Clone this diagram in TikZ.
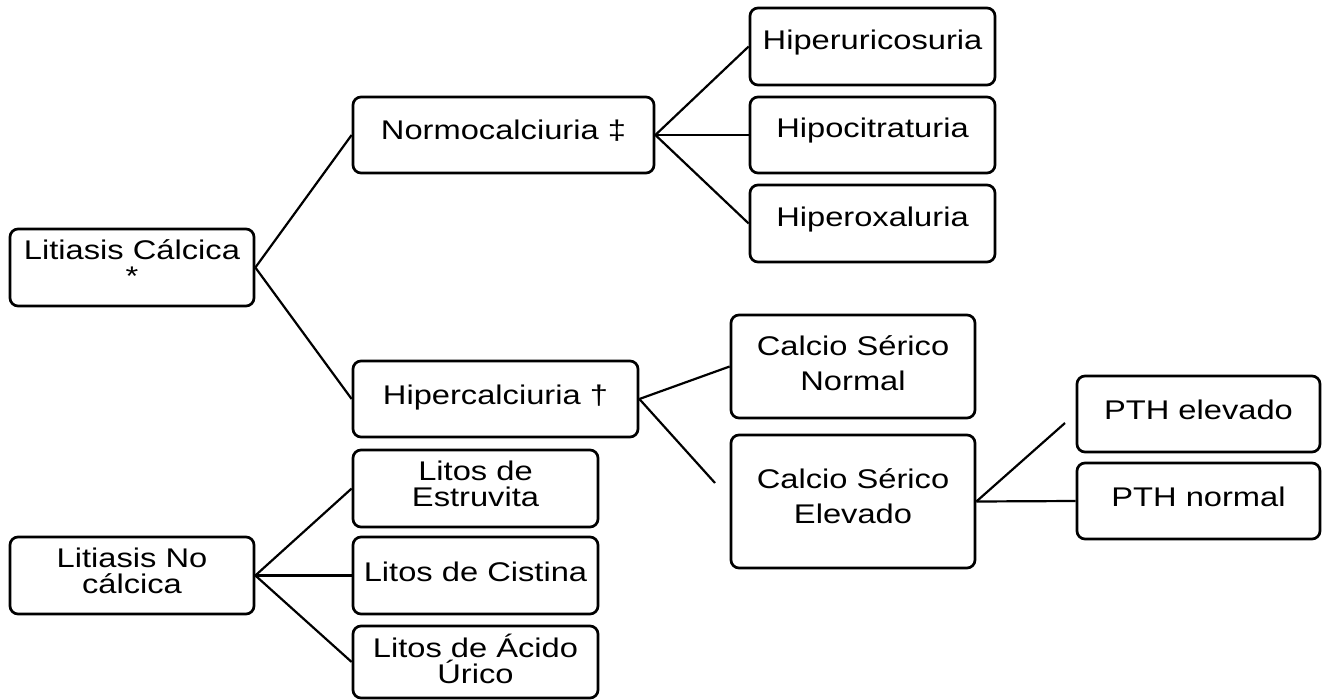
\documentclass[tikz,border=0pt]{standalone}
\usepackage{fontspec}
\setmainfont[FakeStretch=1.21]{Liberation Sans}
\begin{document}
\begin{tikzpicture}[x=0.5pt,y=-0.5pt,
  box/.style={draw=black, line width=1.35pt, rounded corners=4pt, inner sep=0pt},
  txt/.style={align=center, inner sep=0pt, text=black, font=\fontsize{13.5pt}{13pt}\selectfont},
  txtw/.style={align=center, inner sep=0pt, text=black, font=\fontsize{13.5pt}{17.5pt}\selectfont},
  conn/.style={draw=black, line width=1.1pt}]
\fill[white] (0,0) rectangle (1322,700);
\useasboundingbox (0,0) rectangle (1322,700);
% boxes
\node[box, minimum width=122pt, minimum height=38.5pt] (lc) at (132,267.5) {};
\node[box, minimum width=150.5pt, minimum height=38pt] (normo) at (503.5,135) {};
\node[box, minimum width=142.5pt, minimum height=38pt] (hiper) at (495.5,399) {};
\node[box, minimum width=122.5pt, minimum height=38.5pt] (uric) at (872.5,46.5) {};
\node[box, minimum width=122.5pt, minimum height=38pt] (cit) at (872.5,135) {};
\node[box, minimum width=122.5pt, minimum height=38.5pt] (oxa) at (872.5,223.5) {};
\node[box, minimum width=122pt, minimum height=51.5pt] (csn) at (853,366.5) {};
\node[box, minimum width=122pt, minimum height=66.5pt] (cse) at (853,501.5) {};
\node[box, minimum width=121.5pt, minimum height=38pt] (pthe) at (1198.5,414) {};
\node[box, minimum width=121.5pt, minimum height=38pt] (pthn) at (1198.5,501) {};
\node[box, minimum width=122.5pt, minimum height=38.5pt] (est) at (475.5,488.5) {};
\node[box, minimum width=122.5pt, minimum height=38.5pt] (cis) at (475.5,575.5) {};
\node[box, minimum width=122.5pt, minimum height=36pt] (acu) at (475.5,662) {};
\node[box, minimum width=122pt, minimum height=38.5pt] (lnc) at (132,575.5) {};
% texts
\node[txt] (lct) at ([yshift=2.5pt]lc.center) {Litiasis Cálcica\\*};
\node[txt] (normot) at ([yshift=2pt]normo.center) {Normocalciuria ‡};
\node[txt] (hipert) at ([yshift=0.5pt]hiper.center) {Hipercalciuria †};
\node[txt] (urict) at ([yshift=2pt]uric.center) {Hiperuricosuria};
\node[txt] (citt) at ([yshift=2pt]cit.center) {Hipocitraturia};
\node[txt] (oxat) at ([yshift=2pt]oxa.center) {Hiperoxaluria};
\node[txtw] (csnt) at ([yshift=1.5pt]csn.center) {Calcio Sérico\\Normal};
\node[txtw] (cset) at ([yshift=2.5pt]cse.center) {Calcio Sérico\\Elevado};
\node[txt] (pthet) at ([yshift=2pt]pthe.center) {PTH elevado};
\node[txt] (pthnt) at ([yshift=2pt]pthn.center) {PTH normal};
\node[txt] (estt) at ([yshift=2.5pt]est.center) {Litos de\\Estruvita};
\node[txt] (cist) at ([yshift=2pt]cis.center) {Litos de Cistina};
\node[txt] (acut) at ([yshift=1.5pt]acu.center) {Litos de Ácido\\Úrico};
\node[txt] (lnct) at ([yshift=2.5pt]lnc.center) {Litiasis No\\cálcica};
% free ends
\coordinate (f1) at (715,483);
\coordinate (f2) at (1065,423);
% connectors
\draw[conn] (lc.east) -- (normo.west);
\draw[conn] (lc.east) -- (hiper.west);
\draw[conn] (normo.east) -- (uric.west);
\draw[conn] (normo.east) -- (cit.west);
\draw[conn] (normo.east) -- (oxa.west);
\draw[conn] (hiper.east) -- (csn.west);
\draw[conn] (hiper.east) -- (f1);
\draw[conn] (cse.east) -- (f2);
\draw[conn] (cse.east) -- (pthn.west);
\draw[conn] (lnc.east) -- (est.west);
\draw[conn] (lnc.east) -- (cis.west);
\draw[conn] (lnc.east) -- (acu.west);
\end{tikzpicture}
\end{document}
